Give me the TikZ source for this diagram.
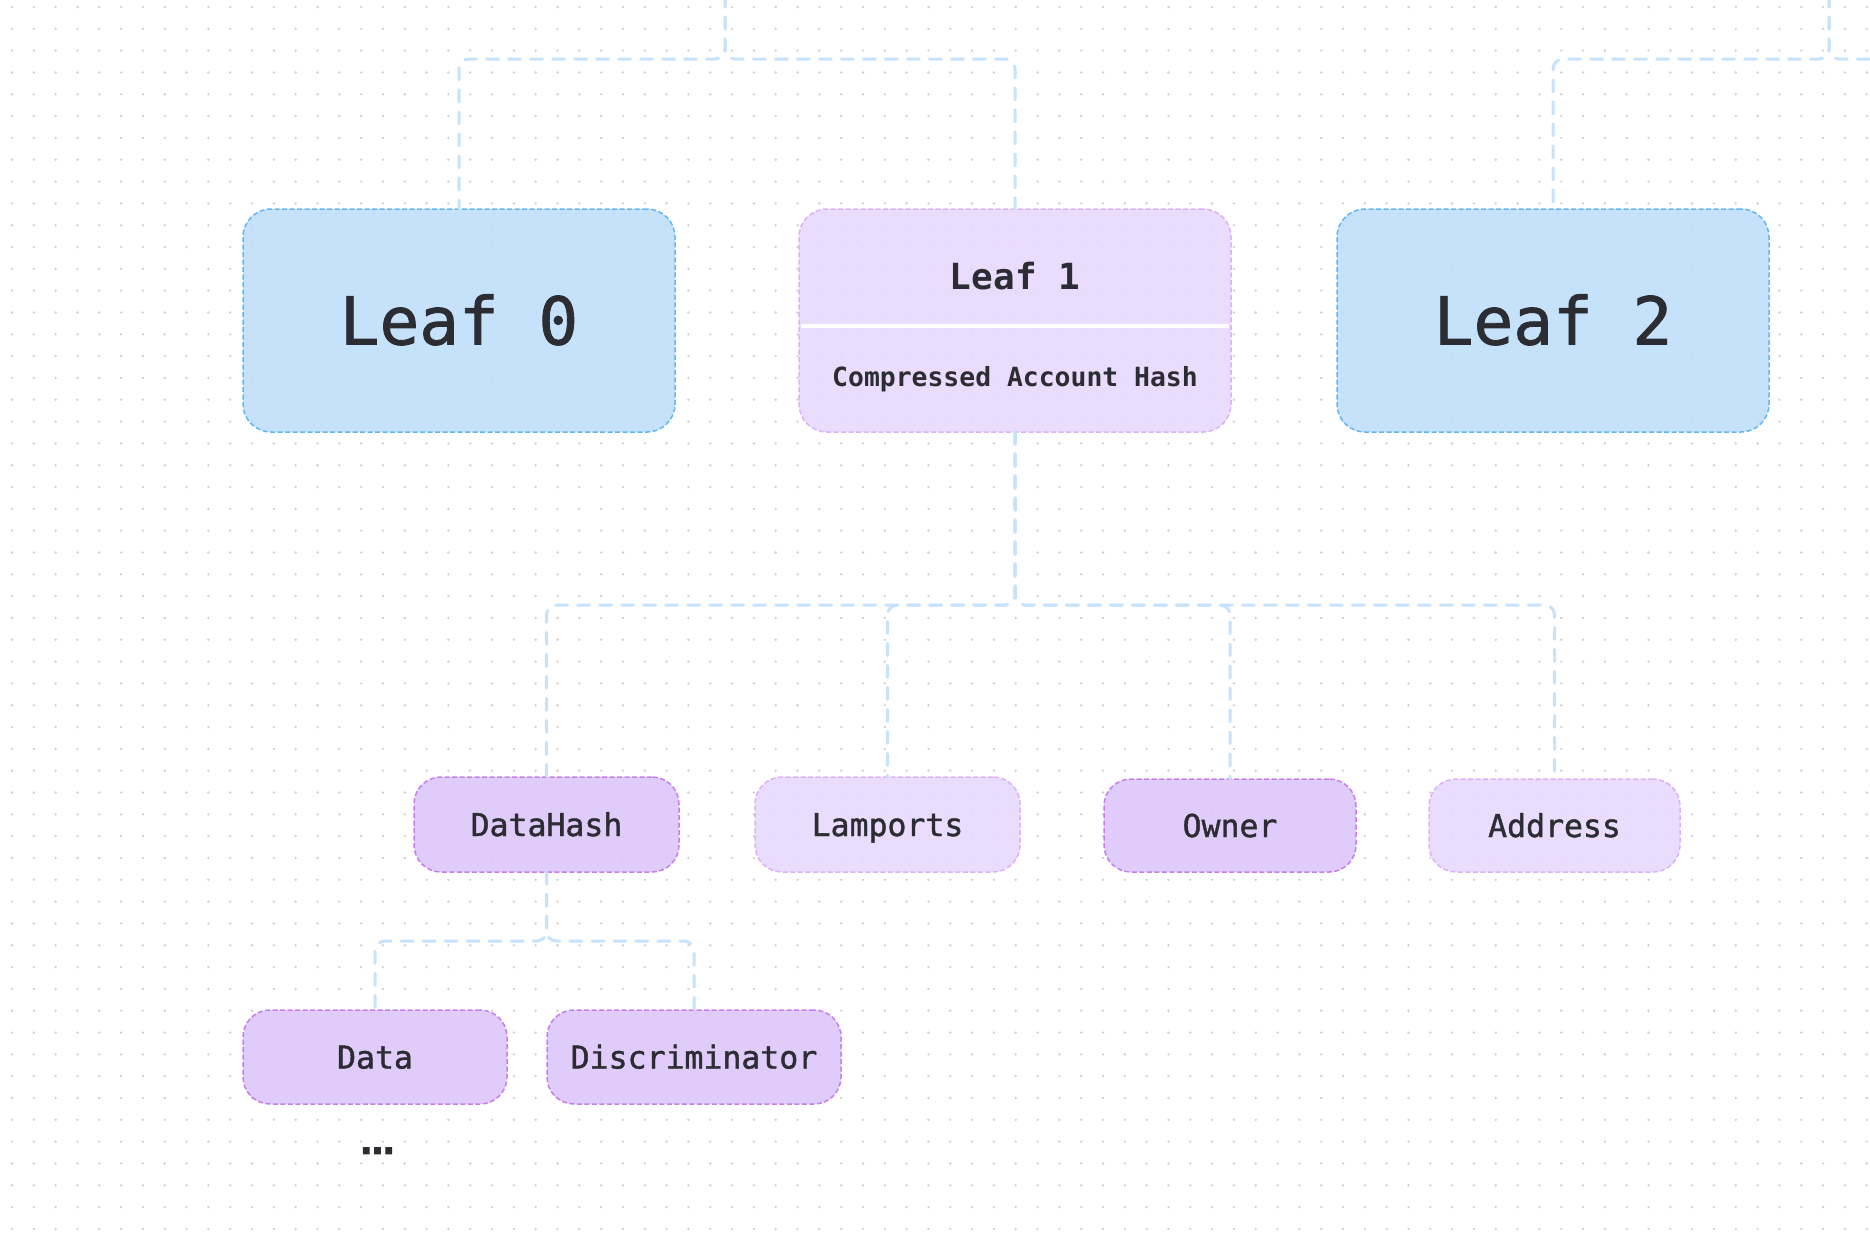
\documentclass[tikz,border=0pt]{standalone}
\usepackage{fontspec}
\setmonofont{DejaVu Sans Mono}
\newfontfamily\medmono{DejaVu Sans Mono}[FakeBold=1.3]
\newfontfamily\dotsfont{DejaVu Sans Bold}[FakeBold=2]
\definecolor{leafBlue}{HTML}{BFDFF9}
\definecolor{leafBlueLine}{HTML}{63B6F6}
\definecolor{leafPurple}{HTML}{E8D8FC}
\definecolor{leafPurpleLine}{HTML}{DDB0F7}
\definecolor{fieldPurple}{HTML}{DDC6F9}
\definecolor{fieldPurpleLine}{HTML}{C57DF0}
\definecolor{wireBlue}{HTML}{C6E3FB}
\definecolor{gridGray}{HTML}{CFCFCF}
\definecolor{inkDark}{HTML}{2B2D33}
\begin{document}
\begin{tikzpicture}[x=1pt, y=-1pt,
	box/.style={rectangle, rounded corners=27pt, inner sep=0pt, outer sep=0pt, line width=1.5pt, dash pattern=on 5pt off 2.5pt, fill opacity=0.9, text opacity=1, text=inkDark},
	bigleaf/.style={box, rounded corners=28pt, minimum width=432pt, minimum height=223pt, fill=leafBlue, draw=leafBlueLine, text height=52pt, text depth=4pt, font=\medmono\fontsize{66}{70}\selectfont},
	hashleaf/.style={box, rounded corners=28pt, minimum width=432pt, minimum height=223pt, fill=leafPurple, draw=leafPurpleLine},
	field/.style={box, text height=27pt, text depth=4pt, font=\medmono\fontsize{31.5}{34}\selectfont},
	darkfield/.style={field, fill=fieldPurple, draw=fieldPurpleLine},
	lightfield/.style={field, fill=leafPurple, draw=leafPurpleLine},
	wire/.style={draw=wireBlue, line width=3pt, dash pattern=on 12pt off 10pt, line cap=round, rounded corners=10pt},
	divider/.style={draw=white, line width=3.5pt, shorten <=2pt, shorten >=2pt}]
	\path[use as bounding box] (0,0) rectangle (1870,1234);
	\clip (0,0) rectangle (1870,1234);

	%dot grid
	\foreach \i in {0,...,85}{
		\foreach \j in {0,...,56}{
			\fill[gridGray] (12+\i*21.82, 7+\j*21.82) circle (1.3);
		}
	}

	%leaves
	\node[bigleaf] (leaf0) at (459, 320.5){Leaf 0};
	\node[hashleaf] (leaf1) at (1015, 320.5){};
	\node[bigleaf] (leaf2) at (1553, 320.5){Leaf 2};
	\node[anchor=base, text=inkDark, font=\ttfamily\bfseries\fontsize{36}{40}\selectfont] (leaf1title) at (1015, 289.3){Leaf 1};
	\node[anchor=base, text=inkDark, font=\ttfamily\bfseries\fontsize{26.4}{30}\selectfont] (leaf1hash) at (1015, 386.7){Compressed Account Hash};
	\draw[divider] (leaf1.west |- 0,326) -- (leaf1.east |- 0,326);

	%account fields
	\node[darkfield, minimum width=265pt, minimum height=95pt] (dh) at (546.5, 824.5){DataHash};
	\node[lightfield, minimum width=265pt, minimum height=95pt] (lam) at (887.5, 824.5){Lamports};
	\node[darkfield, minimum width=252pt, minimum height=93pt] (own) at (1230, 825.5){Owner};
	\node[lightfield, minimum width=251pt, minimum height=93pt] (addr) at (1554.5, 825.5){Address};

	%data hash fields
	\node[darkfield, minimum width=264pt, minimum height=94pt] (data) at (375, 1057){Data};
	\node[darkfield, minimum width=294pt, minimum height=94pt] (disc) at (694, 1057){Discriminator};
	\node[inner sep=0pt, text=inkDark, font=\dotsfont\fontsize{34}{36}\selectfont] (more) at (377.5, 1150.7){…};

	%links to the parents
	\coordinate (topA) at (725, -5);
	\coordinate (busA) at (725, 59);
	\draw[wire] (topA) -- (busA) -| (leaf0.north);
	\draw[wire] (topA) -- (busA) -| (leaf1.north);
	\coordinate (topB) at (1829, -5);
	\coordinate (busB) at (1829, 59);
	\coordinate (edgeB) at (1885, 59);
	\draw[wire] (topB) -- (busB) -| (leaf2.north);
	\draw[wire] (topB) -- (busB) -- (edgeB);

	%links to the fields
	\coordinate (busC) at (leaf1.south |- 0,605);
	\foreach \f in {dh, lam, own, addr}{
		\draw[wire] (leaf1.south) -- (busC) -| (\f.north);
	}
	\coordinate (busD) at (dh.south |- 0,941);
	\foreach \f in {data, disc}{
		\draw[wire] (dh.south) -- (busD) -| (\f.north);
	}
\end{tikzpicture}
\end{document}
